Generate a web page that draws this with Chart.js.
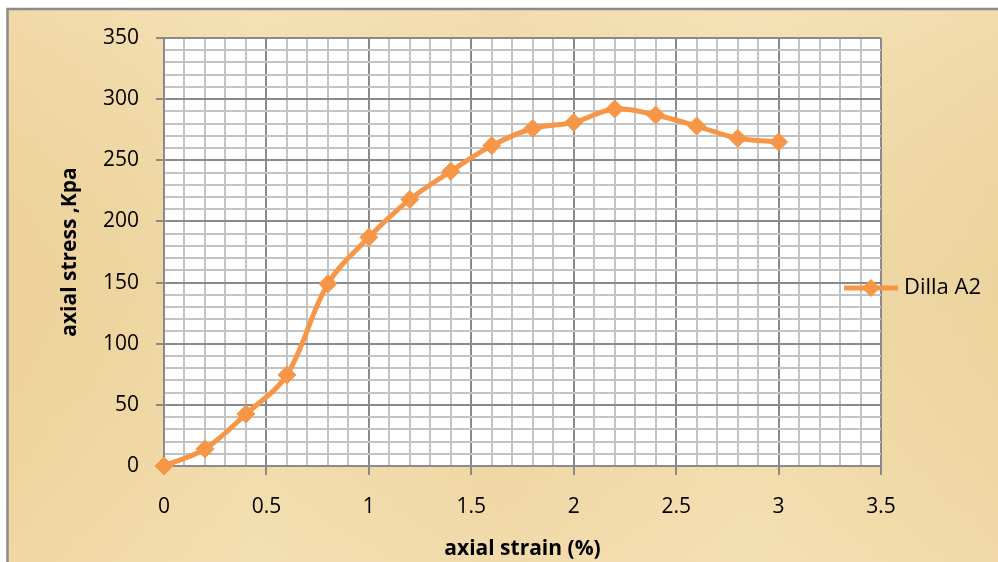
<!DOCTYPE html>
<html><head><meta charset="utf-8">
<script src="https://cdn.jsdelivr.net/npm/chart.js@4/dist/chart.umd.min.js"></script>
<style>html,body{margin:0;padding:0;background:#fff;}#wrap{width:998px;height:562px;}</style>
</head><body><div id="wrap"><canvas id="c" width="998" height="562"></canvas></div>
<script>
// ---- data ----
const strain = [0, 0.2, 0.4, 0.6, 0.8, 1.0, 1.2, 1.4, 1.6, 1.8, 2.0, 2.2, 2.4, 2.6, 2.8, 3.0];
const stress = [0, 14, 42.5, 74.5, 149, 187, 218, 241, 262, 276, 281, 292, 287, 278, 268, 265];
const seriesName = 'Dilla A2';
const xTitle = 'axial strain (%)';
const yTitle = 'axial stress ,Kpa';
const xRange = [0, 3.5];
const yRange = [0, 350];
const xMajor = 0.5, xMinor = 0.1;
const yMajor = 50, yMinor = 10;

const ORANGE = '#F79646';
const MAJOR = '#8A8A8A';
const MINOR = '#C3C3C3';
const FONT = '"Open Sans", Lato, sans-serif';

function isMul(v, step) { const r = v / step; return Math.abs(r - Math.round(r)) < 1e-6; }

// legend symbol: line with diamond
const sym = document.createElement('canvas');
sym.width = 56; sym.height = 22;
(function () {
  const g = sym.getContext('2d');
  g.strokeStyle = ORANGE; g.lineWidth = 5;
  g.beginPath(); g.moveTo(1, 11); g.lineTo(55, 11); g.stroke();
  g.fillStyle = ORANGE;
  g.beginPath(); g.moveTo(28, 2); g.lineTo(37, 11); g.lineTo(28, 20); g.lineTo(19, 11); g.closePath(); g.fill();
})();

const bgPlugin = {
  id: 'bg',
  beforeDraw(chart) {
    const ctx = chart.ctx, ca = chart.chartArea;
    ctx.save();
    ctx.fillStyle = '#ffffff';
    ctx.fillRect(0, 0, chart.width, chart.height);
    const g = ctx.createLinearGradient(8, 0, 998, 0);
    g.addColorStop(0, '#EDD29A');
    g.addColorStop(0.25, '#F1DCAB');
    g.addColorStop(0.5, '#EED6A2');
    g.addColorStop(0.75, '#F2DDAD');
    g.addColorStop(1, '#EDD5A0');
    ctx.fillStyle = g;
    ctx.fillRect(8, 10, 990, 552);
    const g2 = ctx.createLinearGradient(0, 10, 0, 562);
    g2.addColorStop(0, 'rgba(255,240,210,0.25)');
    g2.addColorStop(0.5, 'rgba(230,200,140,0.12)');
    g2.addColorStop(1, 'rgba(255,235,200,0.2)');
    ctx.fillStyle = g2;
    ctx.fillRect(8, 10, 990, 552);
    ctx.strokeStyle = '#8C8C8C';
    ctx.lineWidth = 2.5;
    ctx.strokeRect(7.5, 9, 1010, 570);
    ctx.fillStyle = '#ffffff';
    ctx.fillRect(ca.left, ca.top, ca.right - ca.left, ca.bottom - ca.top);
    ctx.restore();
  }
};

const legendPlace = {
  id: 'legendPlace',
  beforeLayout(chart) {
    const lg = chart.legend;
    if (lg && !lg._zPatched) {
      lg._layers = function () { return [{ z: 5, draw: (ca) => lg.draw(ca) }]; };
      lg._zPatched = true;
    }
  },
  afterLayout(chart) {
    const lg = chart.legend;
    if (!lg) return;
    lg.left = 839; lg.right = 998; lg.width = 159;
    lg.top = 268; lg.bottom = 308; lg.height = 40;
  }
};

new Chart(document.getElementById('c'), {
  type: 'line',
  data: {
    datasets: [{
      label: seriesName,
      data: strain.map((x, i) => ({ x: x, y: stress[i] })),
      borderColor: ORANGE,
      backgroundColor: ORANGE,
      borderWidth: 5,
      tension: 0.35,
      pointStyle: 'rectRot',
      pointRadius: 9,
      pointBorderWidth: 1,
      pointBackgroundColor: ORANGE,
      pointBorderColor: ORANGE,
      clip: false,
      fill: false
    }]
  },
  options: {
    responsive: false,
    animation: false,
    devicePixelRatio: 1,
    layout: { padding: { top: 38, left: 0, right: 117, bottom: 0 } },
    plugins: {
      tooltip: { enabled: false },
      legend: {
        position: 'chartArea',
        align: 'center',
        labels: {
          usePointStyle: true,
          pointStyle: sym,
          pointStyleWidth: 44,
          padding: 10,
          color: '#000',
          font: { family: FONT, size: 22 }
        }
      }
    },
    scales: {
      x: {
        type: 'linear',
        min: xRange[0], max: xRange[1],
        afterFit(s) { s.height = 96; },
        border: { display: true, color: MAJOR, width: 2 },
        grid: {
          color: (c) => isMul(c.tick.value, xMajor) ? MAJOR : MINOR,
          lineWidth: 2,
          tickLength: 9,
          tickColor: (c) => isMul(c.tick.value, xMajor) ? MAJOR : 'rgba(0,0,0,0)',
          drawTicks: true
        },
        ticks: {
          stepSize: xMinor,
          autoSkip: false,
          maxRotation: 0,
          padding: 19,
          color: '#000',
          font: { family: FONT, size: 21 },
          callback: (v) => isMul(v, xMajor) ? String(Math.round(v * 10) / 10) : ''
        },
        title: {
          display: true, text: xTitle, color: '#000',
          font: { family: FONT, size: 21, weight: 'bold' },
          padding: { top: 0, bottom: 0 }
        }
      },
      y: {
        type: 'linear',
        min: yRange[0], max: yRange[1],
        afterFit(s) { s.width = 164; },
        border: { display: true, color: MAJOR, width: 2 },
        grid: {
          color: (c) => isMul(c.tick.value, yMajor) ? MAJOR : MINOR,
          lineWidth: 2,
          tickLength: 8,
          tickColor: (c) => isMul(c.tick.value, yMajor) ? MAJOR : 'rgba(0,0,0,0)',
          drawTicks: true
        },
        ticks: {
          stepSize: yMinor,
          autoSkip: false,
          padding: 17,
          color: '#000',
          font: { family: FONT, size: 21 },
          callback: (v) => isMul(v, yMajor) ? String(v) : ''
        },
        title: {
          display: true, text: yTitle, color: '#000',
          font: { family: FONT, size: 21, weight: 'bold' },
          padding: { top: 57, bottom: 0 }
        }
      }
    }
  },
  plugins: [bgPlugin, legendPlace]
});
</script></body></html>
